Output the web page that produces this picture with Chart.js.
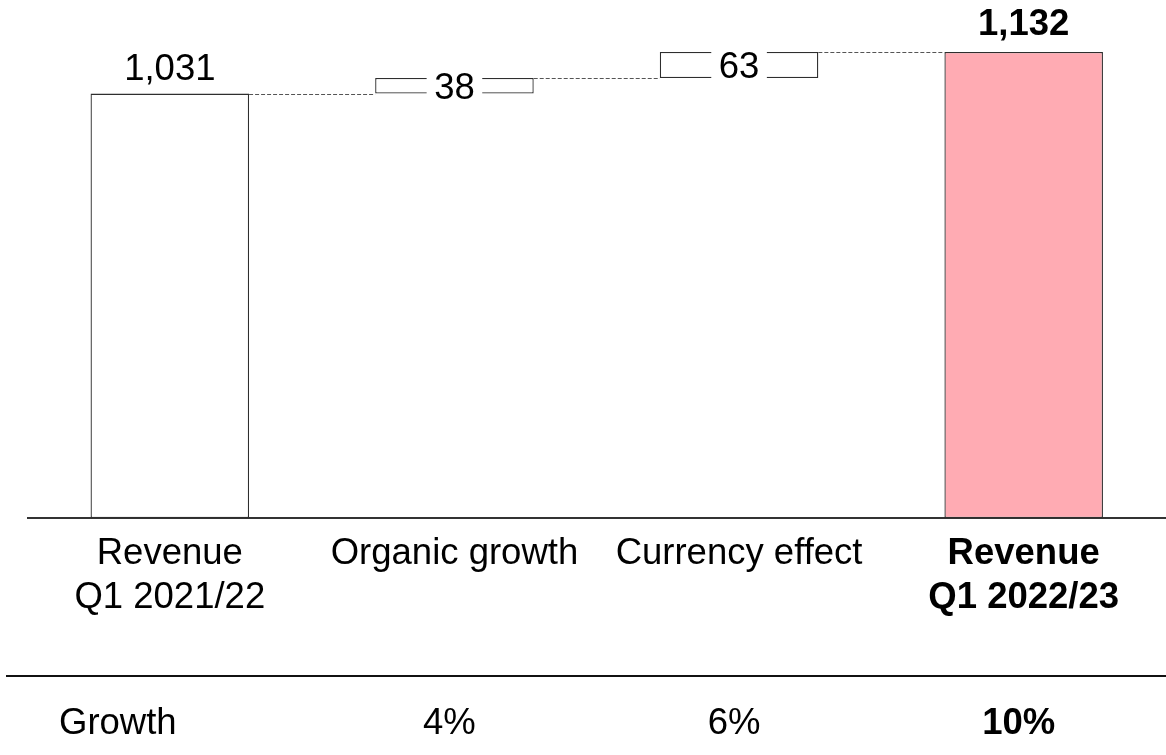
<!DOCTYPE html>
<html>
<head>
<meta charset="utf-8">
<title>Revenue bridge Q1</title>
<script src="https://cdn.jsdelivr.net/npm/chart.js@4.4.1/dist/chart.umd.min.js"></script>
<style>
  html, body { margin: 0; padding: 0; background: #ffffff; }
  #wrap { width: 1166px; height: 755px; position: relative; }
</style>
</head>
<body>
<div id="wrap"><canvas id="chart" width="1166" height="755"></canvas></div>
<script>
// ---- data ----
const categories = [['Revenue', 'Q1 2021/22'], 'Organic growth', 'Currency effect', ['Revenue', 'Q1 2022/23']];
const barKinds = ['total', 'delta', 'delta', 'total'];
const barValues = [1031, 38, 63, 1132];
const growthTitle = 'Growth';
const growthLabels = ['', '4%', '6%', '10%'];
const highlightIndex = 3;

// ---- style ----
const FONT = '"Liberation Sans", Arial, Helvetica, sans-serif';
const FONT_SIZE = 36.5;
const OUTLINE = '#2e2e2e';
const PINK = '#ffabb3';

// floating ranges for the bridge: totals stand on zero, deltas stack on the running total
const ranges = [];
let running = 0;
barValues.forEach((v, i) => {
  if (barKinds[i] === 'total') { ranges.push([0, v]); running = v; }
  else { ranges.push([running, running + v]); running += v; }
});

const fmt = v => v.toLocaleString('en-US');
const fontStr = (bold) => (bold ? 'bold ' : '') + FONT_SIZE + 'px ' + FONT;

const bridgeDecor = {
  id: 'bridgeDecor',
  afterDatasetsDraw(chart) {
    const ctx = chart.ctx;
    const meta = chart.getDatasetMeta(0);
    const y = chart.scales.y;
    ctx.save();

    // dashed connectors between neighbouring bars
    ctx.strokeStyle = '#555555';
    ctx.lineWidth = 1;
    ctx.setLineDash([4, 2]);
    for (let i = 0; i < meta.data.length - 1; i++) {
      const a = meta.data[i], b = meta.data[i + 1];
      const py = Math.round(y.getPixelForValue(ranges[i][1])) + 0.5;
      ctx.beginPath();
      ctx.moveTo(a.x + a.width / 2, py);
      ctx.lineTo(b.x - b.width / 2, py);
      ctx.stroke();
    }
    ctx.setLineDash([]);

    // value labels
    meta.data.forEach((bar, i) => {
      const bold = i === highlightIndex;
      ctx.font = fontStr(bold);
      ctx.fillStyle = '#000000';
      ctx.textAlign = 'center';
      ctx.textBaseline = 'alphabetic';
      const text = fmt(barValues[i]);
      if (barKinds[i] === 'total') {
        const top = y.getPixelForValue(ranges[i][1]);
        ctx.fillText(text, bar.x, top - (bold ? 17 : 14));
      } else {
        const top = y.getPixelForValue(ranges[i][1]);
        const bottom = y.getPixelForValue(ranges[i][0]);
        const cy = (top + bottom) / 2;
        const w = ctx.measureText(text).width + 15;
        ctx.fillStyle = '#ffffff';
        ctx.fillRect(bar.x - w / 2, top - 3, w, bottom - top + 6);
        ctx.fillStyle = '#000000';
        ctx.fillText(text, bar.x, cy + 13);
      }
    });

    // growth row with its rule
    ctx.strokeStyle = '#111111';
    ctx.lineWidth = 2;
    ctx.beginPath();
    ctx.moveTo(6, 676);
    ctx.lineTo(chart.width, 676);
    ctx.stroke();

    ctx.fillStyle = '#000000';
    ctx.textBaseline = 'alphabetic';
    ctx.font = fontStr(false);
    ctx.textAlign = 'left';
    ctx.fillText(growthTitle, 59, 734);
    ctx.textAlign = 'center';
    const x = chart.scales.x;
    growthLabels.forEach((g, i) => {
      if (!g) return;
      ctx.font = fontStr(i === highlightIndex);
      ctx.fillText(g, x.getPixelForValue(i) - 5, 734);
    });

    ctx.restore();
  }
};

new Chart(document.getElementById('chart'), {
  type: 'bar',
  data: {
    labels: categories,
    datasets: [{
      data: ranges,
      backgroundColor: barValues.map((v, i) => i === highlightIndex ? PINK : '#ffffff'),
      borderColor: OUTLINE,
      borderWidth: 1.3,
      borderSkipped: false,
      barPercentage: 0.557,
      categoryPercentage: 1.0,
      clip: false
    }]
  },
  options: {
    responsive: false,
    animation: false,
    events: [],
    layout: { padding: { top: 52, left: 27.5, right: 0, bottom: 121.4 } },
    plugins: { legend: { display: false }, tooltip: { enabled: false } },
    scales: {
      x: {
        grid: { display: false, drawTicks: false },
        border: { display: true, color: '#333333', width: 2 },
        ticks: {
          autoSkip: false,
          maxRotation: 0,
          minRotation: 0,
          padding: 14,
          color: '#000000',
          font: (c) => ({ family: FONT, size: FONT_SIZE, lineHeight: 1.2, weight: c.index === highlightIndex ? 'bold' : 'normal' })
        }
      },
      y: {
        display: false,
        min: 0,
        max: 1132
      }
    }
  },
  plugins: [bridgeDecor]
});
</script>
</body>
</html>
